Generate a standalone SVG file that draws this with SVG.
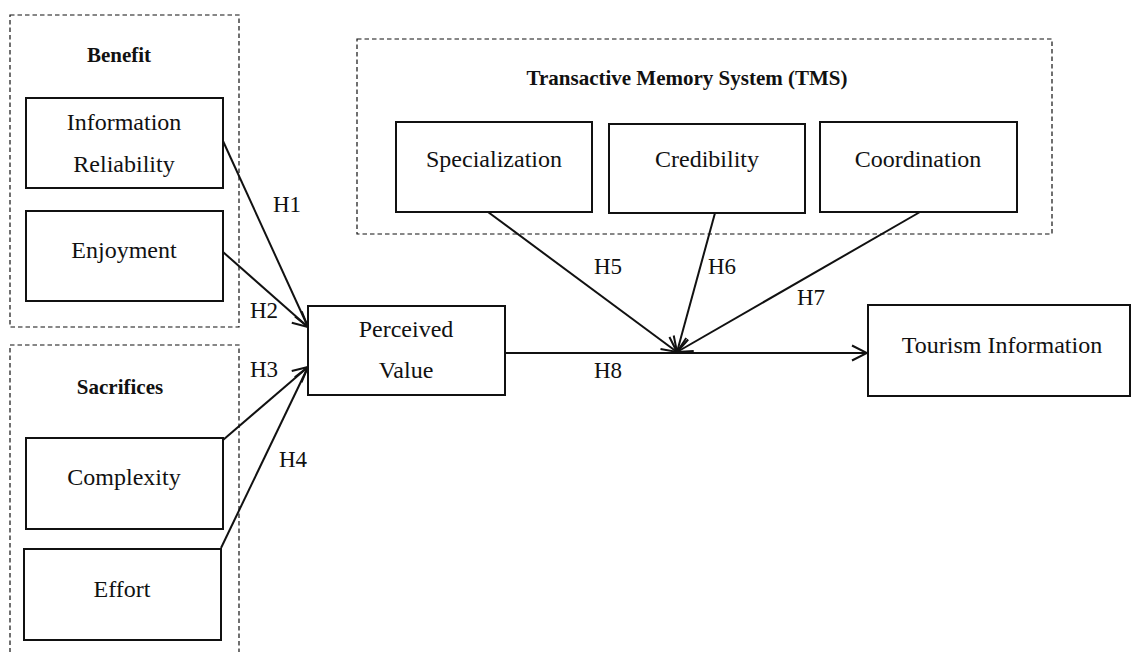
<svg xmlns="http://www.w3.org/2000/svg" width="1131" height="652" viewBox="0 0 1131 652">
  <style>
    .grp { fill: none; stroke: #111; stroke-width: 1.2; stroke-dasharray: 4.5 3; }
    .box { fill: #fff; stroke: #111; stroke-width: 2; }
    .lbl { font-family: "Liberation Serif", "Times New Roman", serif; font-size: 24px; fill: #111; text-anchor: middle; }
    .ttl { font-family: "Liberation Serif", "Times New Roman", serif; font-size: 21px; font-weight: bold; fill: #111; text-anchor: middle; }
    .hyp { font-family: "Liberation Serif", "Times New Roman", serif; font-size: 23px; fill: #111; }
    .edge { fill: none; stroke: #111; stroke-width: 2; marker-end: url(#open); }
  </style>
  <defs>
    <marker id="open" viewBox="0 0 18 18" refX="16" refY="9" markerWidth="18" markerHeight="18" markerUnits="userSpaceOnUse" orient="auto">
      <path d="M1 1.5 L16 9 L1 16.5" fill="none" stroke="#111" stroke-width="2"/>
    </marker>
  </defs>
  <rect width="1131" height="652" fill="#fff"/>

  <!-- construct groupings -->
  <g id="group-benefit">
    <rect class="grp" x="10" y="15" width="229" height="312"/>
    <text class="ttl" x="119" y="62">Benefit</text>
  </g>
  <g id="group-sacrifices">
    <path class="grp" d="M10 660 V345 H239 V660"/>
    <text class="ttl" x="120" y="394">Sacrifices</text>
  </g>
  <g id="group-tms">
    <rect class="grp" x="357" y="39" width="695" height="195"/>
    <text class="ttl" x="687" y="85">Transactive Memory System (TMS)</text>
  </g>

  <!-- hypothesised paths -->
  <g id="connectors">
    <line class="edge" x1="223" y1="141" x2="308" y2="327"/>
    <line class="edge" x1="223" y1="252" x2="308" y2="327"/>
    <line class="edge" x1="223" y1="440" x2="308" y2="367"/>
    <line class="edge" x1="221" y1="548" x2="308" y2="367"/>
    <line class="edge" x1="505" y1="353" x2="867" y2="353"/>
    <line class="edge" x1="488" y1="212" x2="677" y2="352"/>
    <line class="edge" x1="715" y1="213" x2="677" y2="352"/>
    <line class="edge" x1="920" y1="212" x2="677" y2="352"/>
    <text class="hyp" x="273" y="212">H1</text>
    <text class="hyp" x="250" y="318">H2</text>
    <text class="hyp" x="250" y="377">H3</text>
    <text class="hyp" x="279" y="467">H4</text>
    <text class="hyp" x="594" y="274">H5</text>
    <text class="hyp" x="708" y="274">H6</text>
    <text class="hyp" x="797" y="305">H7</text>
    <text class="hyp" x="594" y="378">H8</text>
  </g>

  <g id="info-reliability">
    <rect class="box" x="26" y="98" width="197" height="90"/>
    <text class="lbl" x="124" y="130">Information</text>
    <text class="lbl" x="124" y="172">Reliability</text>
  </g>
  <g id="enjoyment">
    <rect class="box" x="26" y="211" width="197" height="90"/>
    <text class="lbl" x="124" y="258">Enjoyment</text>
  </g>
  <g id="complexity">
    <rect class="box" x="26" y="438" width="197" height="91"/>
    <text class="lbl" x="124" y="485">Complexity</text>
  </g>
  <g id="effort">
    <rect class="box" x="24" y="549" width="197" height="91"/>
    <text class="lbl" x="122" y="597">Effort</text>
  </g>
  <g id="perceived-value">
    <rect class="box" x="308" y="306" width="197" height="89"/>
    <text class="lbl" x="406" y="337">Perceived</text>
    <text class="lbl" x="406" y="378">Value</text>
  </g>
  <g id="specialization">
    <rect class="box" x="396" y="122" width="196" height="90"/>
    <text class="lbl" x="494" y="167">Specialization</text>
  </g>
  <g id="credibility">
    <rect class="box" x="609" y="124" width="196" height="89"/>
    <text class="lbl" x="707" y="167">Credibility</text>
  </g>
  <g id="coordination">
    <rect class="box" x="820" y="122" width="197" height="90"/>
    <text class="lbl" x="918" y="167">Coordination</text>
  </g>
  <g id="tourism-information">
    <rect class="box" x="868" y="305" width="262" height="91"/>
    <text class="lbl" x="1002" y="353">Tourism Information</text>
  </g>
</svg>
